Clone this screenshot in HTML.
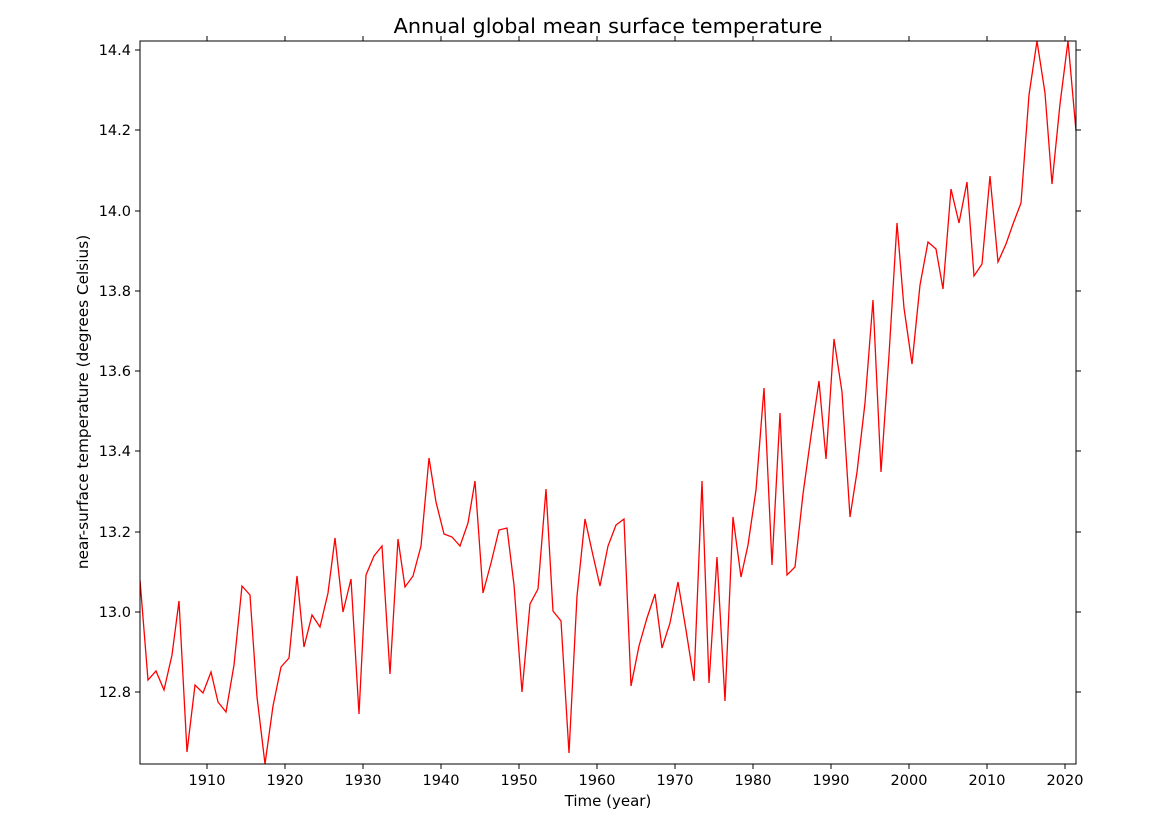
<!DOCTYPE html>
<html><head><meta charset="utf-8"><style>body{margin:0;background:#fff}</style></head><body>
<svg width="1170" height="830" xmlns="http://www.w3.org/2000/svg" font-family="DejaVu Sans, Liberation Sans, sans-serif">
<rect width="1170" height="830" fill="#fff"/>
<text x="608" y="33" font-size="20.8" text-anchor="middle">Annual global mean surface temperature</text>
<clipPath id="c"><rect x="140" y="41" width="936" height="723"/></clipPath>
<polyline clip-path="url(#c)" fill="none" stroke="#ff0000" stroke-width="1.3" points="140,580 148,680 156,671 164,690 172,655 179,601 187,752 195,685 203,693 211,672 218,702 226,712 234,665 242,586 250,595 257,697 265,764 273,706 281,667 289,658 297,576 304,647 312,615 320,627 328,593 335,538 343,612 351,579 359,714 366,575 374,556 382,546 390,674 398,539 405,587 413,576 421,546 429,458 436,502 444,534 452,537 460,546 468,523 475,481 483,593 491,563 499,530 507,528 514,585 522,692 530,604 538,589 546,489 553,611 561,621 569,753 577,596 585,519 592,551 600,586 608,546 616,525 624,519 631,686 639,646 647,618 655,594 662,648 670,623 678,582 686,630 694,681 702,481 709,683 717,557 725,701 733,517 741,577 748,545 756,490 764,388 772,565 780,413 787,575 795,567 803,494 811,436 819,381 826,459 834,339 842,392 850,517 857,472 865,403 873,300 881,472 889,355 897,223 904,308 912,364 920,285 928,242 936,249 943,289 951,189 959,223 967,182 974,276 982,264 990,176 998,262 1006,244 1013,224 1021,203 1029,95 1037,41 1045,93 1052,184 1060,104 1068,41 1076,131"/>
<rect x="140" y="41" width="936" height="723" fill="none" stroke="#000" stroke-width="1"/>
<g stroke="#000" stroke-width="1">
<path d="M207,764v5M285,764v5M363,764v5M441,764v5M519,764v5M597,764v5M675,764v5M753,764v5M831,764v5M909,764v5M987,764v5M1065,764v5"/>
<path d="M207,41v-5M285,41v-5M363,41v-5M441,41v-5M519,41v-5M597,41v-5M675,41v-5M753,41v-5M831,41v-5M909,41v-5M987,41v-5M1065,41v-5"/>
<path d="M140,692h-5M140,612h-5M140,532h-5M140,451h-5M140,371h-5M140,291h-5M140,211h-5M140,130h-5M140,50h-5"/>
<path d="M1076,692h5M1076,612h5M1076,532h5M1076,451h5M1076,371h5M1076,291h5M1076,211h5M1076,130h5M1076,50h5"/>
</g>
<g font-size="14.5" text-anchor="middle">
<text x="207" y="785">1910</text><text x="285" y="785">1920</text><text x="363" y="785">1930</text><text x="441" y="785">1940</text><text x="519" y="785">1950</text><text x="597" y="785">1960</text><text x="675" y="785">1970</text><text x="753" y="785">1980</text><text x="831" y="785">1990</text><text x="909" y="785">2000</text><text x="987" y="785">2010</text><text x="1065" y="785">2020</text>
</g>
<g font-size="14.5" text-anchor="end">
<text x="131" y="697">12.8</text><text x="131" y="617">13.0</text><text x="131" y="537">13.2</text><text x="131" y="456">13.4</text><text x="131" y="376">13.6</text><text x="131" y="296">13.8</text><text x="131" y="216">14.0</text><text x="131" y="135">14.2</text><text x="131" y="55">14.4</text>
</g>
<text x="608" y="806" font-size="15" text-anchor="middle">Time (year)</text>
<text transform="translate(88,402) rotate(-90)" font-size="15.3" text-anchor="middle">near-surface temperature (degrees Celsius)</text>
</svg>
</body></html>
